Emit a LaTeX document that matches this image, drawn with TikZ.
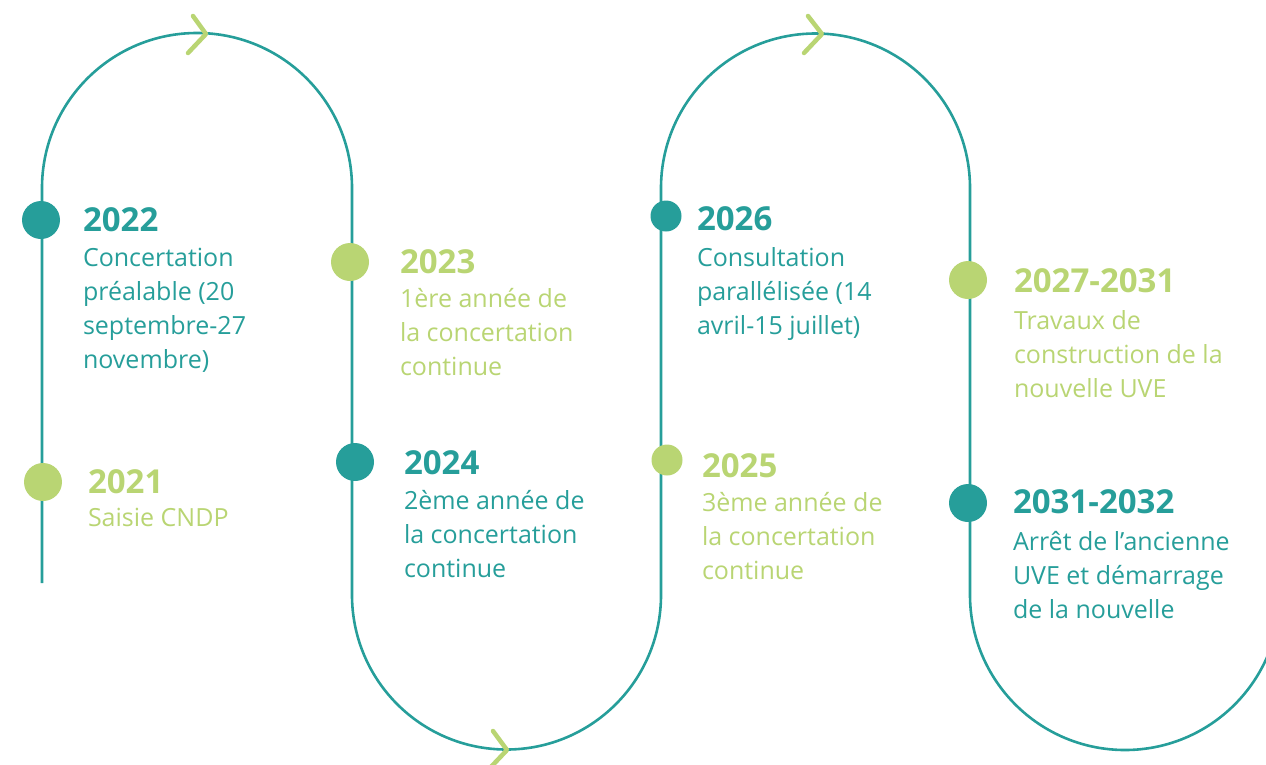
\documentclass[tikz,border=0pt]{standalone}
\usepackage{fontspec}
\setmainfont{Open Sans}
\definecolor{tlteal}{RGB}{38,158,154}
\definecolor{tlgreen}{RGB}{185,213,115}
\newcommand{\desclines}[1]{\begin{tabular}[t]{@{}l@{}}#1\end{tabular}}

\begin{document}
\begin{tikzpicture}
	[x=1pt, y=-1pt,
	every node/.style={inner sep=0pt, outer sep=0pt},
	track/.style={draw=tlteal, line width=2.6pt},
	dot/.style={circle, minimum size=38pt},
	smalldot/.style={circle, minimum size=31pt},
	year/.style={anchor=base west, font=\fontsize{33}{34}\selectfont\bfseries},
	desc/.style={anchor=base west, font=\fontsize{25}{34}\selectfont},
	chevron/.style={draw=tlgreen, line width=4.5pt, line cap=round, line join=round}]
	\useasboundingbox (0,0) rectangle (1266,764);
	\clip (0,0) rectangle (1266,764);
	% the winding track
	\draw [track] (42,583) -- (42,188) arc (180:360:155) -- (352,595)
		arc (180:0:154.5) -- (661,188) arc (180:360:154.5) -- (970,595)
		arc (180:0:155);
	\draw [chevron] (193,16) -- ++(13,18) -- ++(-18,19);
	\draw [chevron] (493,731) -- ++(14,19) -- ++(-18,19);
	\draw [chevron] (808,16) -- ++(14,18) -- ++(-18,19);
	% milestones
	\node (d2022) [dot, fill=tlteal] at (41,220) {};
	\node (y2022) [year, text=tlteal] at (83,231) {2022};
	\node (t2022) [desc, text=tlteal] at (83,266) {\desclines{Concertation\\préalable (20\\septembre-27\\novembre)}};
	\node (d2021) [dot, fill=tlgreen] at (43,482) {};
	\node (y2021) [year, text=tlgreen] at (88,493) {2021};
	\node (t2021) [desc, text=tlgreen] at (88,526) {Saisie CNDP};
	\node (d2023) [dot, fill=tlgreen] at (350,262) {};
	\node (y2023) [year, text=tlgreen] at (400,273) {2023};
	\node (t2023) [desc, text=tlgreen] at (400,307) {\desclines{1ère année de\\la concertation\\continue}};
	\node (d2024) [dot, fill=tlteal] at (355,462) {};
	\node (y2024) [year, text=tlteal] at (404,474) {2024};
	\node (t2024) [desc, text=tlteal] at (404,509) {\desclines{2ème année de\\la concertation\\continue}};
	\node (d2026) [smalldot, fill=tlteal] at (666,216) {};
	\node (y2026) [year, text=tlteal] at (697,230) {2026};
	\node (t2026) [desc, text=tlteal] at (697,266) {\desclines{Consultation\\parallélisée (14\\avril-15 juillet)}};
	\node (d2025) [smalldot, fill=tlgreen] at (667,460) {};
	\node (y2025) [year, text=tlgreen] at (702,477) {2025};
	\node (t2025) [desc, text=tlgreen] at (702,511) {\desclines{3ème année de\\la concertation\\continue}};
	\node (d2027) [dot, fill=tlgreen] at (968,280) {};
	\node (y2027) [year, text=tlgreen] at (1014,292) {2027-2031};
	\node (t2027) [desc, text=tlgreen] at (1014,329) {\desclines{Travaux de\\construction de la\\nouvelle UVE}};
	\node (d2031) [dot, fill=tlteal] at (968,503) {};
	\node (y2031) [year, text=tlteal] at (1013,513) {2031-2032};
	\node (t2031) [desc, text=tlteal] at (1013,550) {\desclines{Arrêt de l’ancienne\\UVE et démarrage\\de la nouvelle}};
\end{tikzpicture}
\end{document}
